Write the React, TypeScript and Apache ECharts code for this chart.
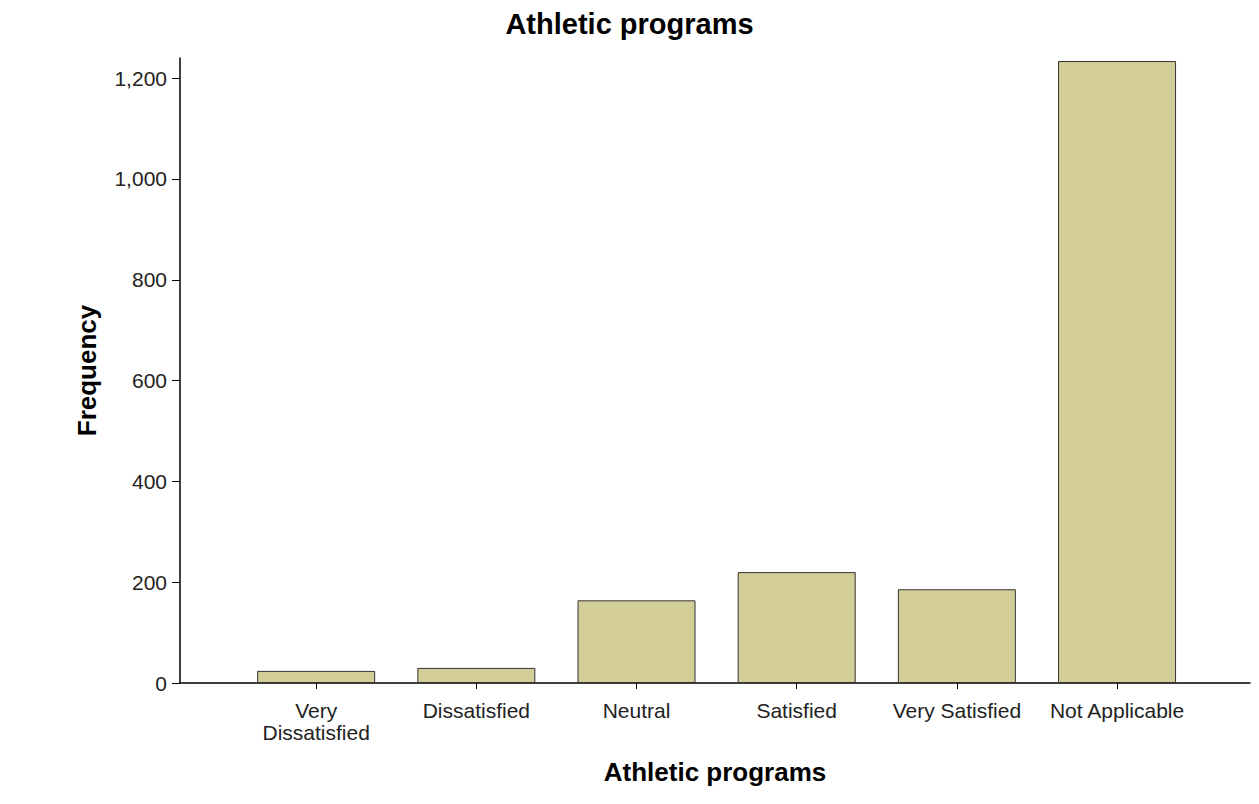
import React, { useEffect, useRef } from "react";
import * as echarts from "echarts";

const categories = ["Very Dissatisfied", "Dissatisfied", "Neutral", "Satisfied", "Very Satisfied", "Not Applicable"];
const frequencies = [24, 30, 164, 220, 186, 1234];
const yTicks = [0, 200, 400, 600, 800, 1000, 1200];
const chartTitle = "Athletic programs";
const xTitle = "Athletic programs";
const yTitle = "Frequency";

const FONT = "'Liberation Sans', Arial, sans-serif";

export default function App() {
  const ref = useRef<HTMLDivElement>(null);
  useEffect(() => {
    if (!ref.current) return;
    const chart = echarts.init(ref.current, null, { renderer: "svg" });
    const positions = categories.map((_, i) => i);
    chart.setOption({
      animation: false,
      backgroundColor: "#ffffff",
      textStyle: { fontFamily: FONT },
      title: {
        text: chartTitle,
        left: "center",
        top: 4,
        textStyle: { fontFamily: FONT, fontSize: 29, fontWeight: "bold", color: "#000" },
      },
      grid: { left: 180, right: 9, top: 58, bottom: 121 },
      xAxis: {
        type: "value",
        min: -0.85,
        max: 5.83,
        name: xTitle,
        nameLocation: "middle",
        nameGap: 76,
        nameTextStyle: { fontFamily: FONT, fontSize: 26, fontWeight: "bold", color: "#000" },
        splitLine: { show: false },
        axisLine: { show: true, onZero: false, lineStyle: { color: "#000", width: 1.5 } },
        axisTick: { show: true, length: 6, customValues: positions, lineStyle: { color: "#000" } },
        axisLabel: {
          customValues: positions,
          margin: 16,
          fontFamily: FONT,
          fontSize: 21,
          lineHeight: 22,
          color: "#222",
          formatter: (v: number) => {
            const s = categories[Math.round(v)] ?? "";
            return s.length > 15 ? s.replace(" ", "\n") : s;
          },
        },
      },
      yAxis: {
        type: "value",
        min: 0,
        max: 1240,
        interval: 200,
        name: yTitle,
        nameLocation: "middle",
        nameGap: 80,
        nameRotate: 90,
        nameTextStyle: { fontFamily: FONT, fontSize: 26, fontWeight: "bold", color: "#000" },
        splitLine: { show: false },
        axisLine: { show: true, onZero: false, lineStyle: { color: "#000", width: 1.5 } },
        axisTick: { show: true, length: 8, customValues: yTicks, lineStyle: { color: "#000" } },
        axisLabel: {
          customValues: yTicks,
          margin: 13,
          fontFamily: FONT,
          fontSize: 21,
          color: "#222",
          formatter: (v: number) => v.toLocaleString("en-US"),
        },
      },
      series: [
        {
          type: "bar",
          data: frequencies.map((f, i) => [i, f]),
          barWidth: 118,
          itemStyle: { color: "#d3ce97", borderColor: "#333", borderWidth: 1 },
        },
      ],
    });
    return () => chart.dispose();
  }, []);
  return (
    <div
      ref={ref}
      style={{ position: "fixed", left: 0, top: 0, width: 1259, height: 804 }}
    />
  );
}
